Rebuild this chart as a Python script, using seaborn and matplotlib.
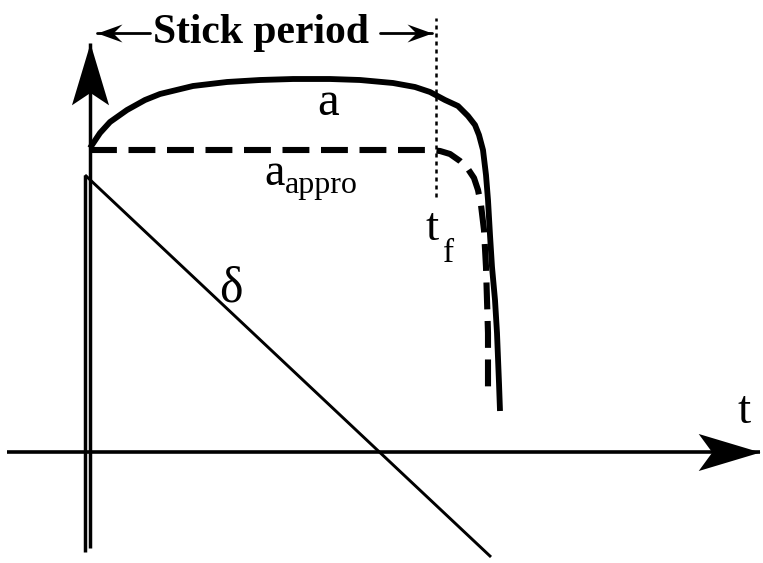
import matplotlib
matplotlib.use('Agg')
import matplotlib.pyplot as plt
import seaborn as sns
import numpy as np
from matplotlib import font_manager
from matplotlib.font_manager import FontProperties
from matplotlib.path import Path
from matplotlib.markers import MarkerStyle
from matplotlib.transforms import Affine2D

# curve a (real contact acceleration), time t vs value
t_a = [0.00, 0.10, 0.20, 0.37, 0.55, 0.70, 1.03, 1.37, 1.70, 2.03, 2.40, 2.70,
       3.03, 3.25, 3.40, 3.55, 3.68, 3.78, 3.85, 3.89, 3.93, 3.96, 3.98, 4.00,
       4.02, 4.05, 4.07, 4.09, 4.10]
a_val = [3.04, 3.19, 3.30, 3.42, 3.52, 3.58, 3.66, 3.70, 3.72, 3.73, 3.73, 3.72,
         3.69, 3.65, 3.60, 3.52, 3.46, 3.36, 3.27, 3.17, 3.02, 2.77, 2.52, 2.17,
         1.85, 1.52, 1.19, 0.69, 0.41]

# approximated curve
t_appro = [0.00, 3.40, 3.50, 3.60, 3.70, 3.78, 3.84, 3.88, 3.91, 3.94, 3.96, 3.97, 3.98, 3.98]
a_appro = [3.02, 3.02, 3.01, 2.98, 2.91, 2.83, 2.74, 2.62, 2.47, 2.22, 1.85, 1.52, 1.19, 0.64]

# delta line
t_delta = [-0.05, 4.01]
delta = [2.77, -1.05]

# end of stick period
t_f = 3.46
t_f_span = [2.55, 4.34]

# axes extents
t_axis = [-0.83, 6.70]
y_axis = [-0.96, 4.09]
y_axis2 = [-1.00, 2.77]
stick_y = 4.19
stick_left = [0.60, 0.07]
stick_right = [2.90, 3.42]

sns.set_theme(style='white')


def serif_file(tag):
    for f in font_manager.findSystemFonts():
        if f.endswith('LiberationSerif-' + tag + '.ttf'):
            return f
    return None


reg_file = serif_file('Regular')
bold_file = serif_file('Bold')


def fp(size, bold=False):
    f = bold_file if bold else reg_file
    if f:
        return FontProperties(fname=f, size=size)
    return FontProperties(family='DejaVu Serif', size=size,
                          weight='bold' if bold else 'normal')


fig = plt.figure(figsize=(7.63, 5.63), dpi=100)
ax = fig.add_axes([0, 0, 1, 1])
ax.set_xlim(-0.90, 6.73)
ax.set_ylim(-1.11, 4.52)
ax.axis('off')


def head(width, notch, angle):
    verts = [(0, 0), (-1, width), (-notch, 0), (-1, -width), (0, 0)]
    codes = [Path.MOVETO, Path.LINETO, Path.LINETO, Path.LINETO, Path.CLOSEPOLY]
    return MarkerStyle(Path(verts, codes), transform=Affine2D().rotate_deg(angle))


def label(x, y, s, size, ha='left', bold=False):
    ax.text(x, y, s, fontproperties=fp(size, bold), color='black',
            ha=ha, va='baseline')


# axes
ax.plot(t_axis, [0, 0], color='black', lw=2.6, solid_capstyle='butt')
ax.plot([0, 0], y_axis, color='black', lw=2.5, solid_capstyle='butt')
ax.plot([-0.05, -0.05], y_axis2, color='black', lw=2.5, solid_capstyle='butt')
ax.plot(t_axis[1], 0, marker=head(0.3, 0.78, 0), ms=89, color='black', mew=0)
ax.plot(0, y_axis[1], marker=head(0.3, 0.8, 90), ms=89, color='black', mew=0)

# curves
sns.lineplot(x=t_a, y=a_val, sort=False, estimator=None, ax=ax, color='black',
             lw=4.2, solid_capstyle='butt')
sns.lineplot(x=t_appro, y=a_appro, sort=False, estimator=None, ax=ax, color='black',
             lw=4.4, linestyle=(0, (4.4, 1.9)))
sns.lineplot(x=t_delta, y=delta, sort=False, estimator=None, ax=ax, color='black',
             lw=2.1, solid_capstyle='butt')
ax.plot([t_f, t_f], t_f_span, color='black', lw=1.8, linestyle=(0, (1.6, 1.6)))

# stick period arrows
ax.plot(stick_left, [stick_y, stick_y], color='black', lw=2.0)
ax.plot(stick_right, [stick_y, stick_y], color='black', lw=2.0)
ax.plot(stick_left[1], stick_y, marker=head(0.36, 0.64, 180), ms=36, color='black', mew=0)
ax.plot(stick_right[1], stick_y, marker=head(0.36, 0.64, 0), ms=36, color='black', mew=0)

# labels
label(1.71, 4.09, 'Stick period', 30, ha='center', bold=True)
label(2.27, 3.37, 'a', 35)
label(1.74, 2.67, 'a', 33)
label(1.95, 2.59, 'appro', 23)
label(3.35, 2.12, 't', 34)
label(3.53, 1.90, 'f', 24)
label(6.48, 0.29, 't', 34)
label(1.29, 1.50, 'δ', 36)

fig.savefig('out.png', dpi=100)
